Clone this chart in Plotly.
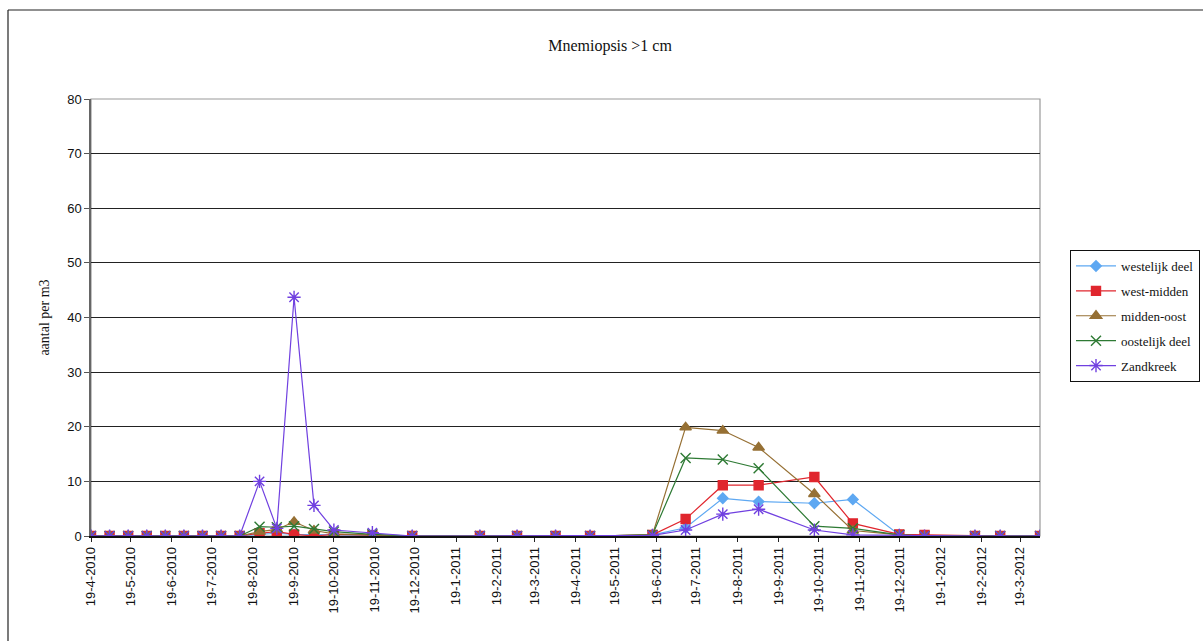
import plotly.graph_objects as go

# Sampling dates (dd-mm-yyyy visits)
dates = [
    "2010-04-19", "2010-05-03", "2010-05-17", "2010-05-31", "2010-06-14", "2010-06-28",
    "2010-07-12", "2010-07-26", "2010-08-09", "2010-08-24", "2010-09-06", "2010-09-19",
    "2010-10-04", "2010-10-19", "2010-11-17", "2010-12-17",
    "2011-02-06", "2011-03-06", "2011-04-04", "2011-04-30", "2011-06-16", "2011-07-11",
    "2011-08-08", "2011-09-04", "2011-10-16", "2011-11-14", "2011-12-19", "2012-01-07",
    "2012-02-14", "2012-03-04", "2012-04-03",
]

westelijk_deel = [0, 0, 0, 0, 0, 0, 0, 0, 0, 0.3, 0.5, 0.3, 0.2, 0.2, 0.1, 0,
                  0, 0, 0, 0, 0.2, 1.5, 6.9, 6.3, 6.0, 6.7, 0.2, 0, 0, 0, 0]
west_midden = [0, 0, 0, 0, 0, 0, 0, 0, 0, 0.5, 0.8, 0.3, 0, 0.3, 0.1, 0,
               0, 0, 0, 0, 0.2, 3.1, 9.3, 9.3, 10.8, 2.3, 0.3, 0.2, 0, 0, 0]
midden_oost = [0, 0, 0, 0, 0, 0, 0, 0, 0, 0.8, 1.2, 2.6, 1.0, 0.4, 0.2, 0,
               0, 0, 0, 0, 0.2, 19.9, 19.3, 16.2, 7.7, 1.0, 0.2, 0, 0, 0, 0]
oostelijk_deel = [0, 0, 0, 0, 0, 0, 0, 0, 0, 1.7, 1.6, 1.8, 1.3, 0.8, 0.3, 0,
                  0, 0, 0, 0, 0.2, 14.3, 14.0, 12.4, 1.8, 1.4, 0.2, 0, 0, 0, 0]
zandkreek = [0, 0, 0, 0, 0, 0, 0, 0, 0, 10.0, 1.4, 43.7, 5.6, 1.1, 0.6, 0,
             0, 0, 0, 0, 0.1, 1.1, 4.0, 4.9, 1.1, 0.2, 0.1, 0, 0, 0, 0]

tick_dates = [
    "2010-04-19", "2010-05-19", "2010-06-19", "2010-07-19", "2010-08-19", "2010-09-19",
    "2010-10-19", "2010-11-19", "2010-12-19", "2011-01-19", "2011-02-19", "2011-03-19",
    "2011-04-19", "2011-05-19", "2011-06-19", "2011-07-19", "2011-08-19", "2011-09-19",
    "2011-10-19", "2011-11-19", "2011-12-19", "2012-01-19", "2012-02-19", "2012-03-19",
]
tick_labels = [
    "19-4-2010", "19-5-2010", "19-6-2010", "19-7-2010", "19-8-2010", "19-9-2010",
    "19-10-2010", "19-11-2010", "19-12-2010", "19-1-2011", "19-2-2011", "19-3-2011",
    "19-4-2011", "19-5-2011", "19-6-2011", "19-7-2011", "19-8-2011", "19-9-2011",
    "19-10-2011", "19-11-2011", "19-12-2011", "19-1-2012", "19-2-2012", "19-3-2012",
]

series = [
    ("westelijk deel", westelijk_deel, "#5ea8f2", "diamond", 8),
    ("west-midden", west_midden, "#e0262e", "square", 9),
    ("midden-oost", midden_oost, "#967034", "triangle-up", 10),
    ("oostelijk deel", oostelijk_deel, "#2e7a34", "x-thin-open", 10),
    ("Zandkreek", zandkreek, "#7040e0", "asterisk-open", 11),
]

SERIF = "Liberation Serif, Times New Roman, serif"
SANS = "Liberation Sans, Arial, sans-serif"
W, H = 1203, 641

fig = go.Figure()
for name, vals, color, symbol, size in series:
    fig.add_trace(go.Scatter(
        x=dates, y=vals, name=name, mode="lines+markers", legendgroup=name,
        line=dict(color=color, width=1.2),
        marker=dict(symbol=symbol, size=size, color=color,
                    line=dict(color=color, width=1.4)),
    ))

fig.update_layout(
    width=W, height=H,
    paper_bgcolor="white", plot_bgcolor="white",
    margin=dict(l=91, r=163, t=99, b=105),
    title=dict(text="Mnemiopsis >1 cm", x=610 / W, xref="container", xanchor="center",
               y=1 - 45 / H, yref="container", yanchor="middle",
               font=dict(family=SERIF, size=16, color="#111")),
    showlegend=True,
    legend=dict(x=1070 / W, y=1 - 250 / H, xref="container", yref="container",
                xanchor="left", yanchor="top",
                font=dict(family=SERIF, size=13, color="#111"),
                bordercolor="#111", borderwidth=1, bgcolor="white",
                tracegroupgap=5, itemwidth=40),
    xaxis=dict(type="date", range=["2010-04-19", "2012-04-03"],
               tickmode="array", tickvals=tick_dates, ticktext=tick_labels,
               tickangle=-90, tickfont=dict(family=SANS, size=13, color="#111"),
               ticks="outside", ticklen=4, tickcolor="#222",
               showgrid=False, showline=True, linecolor="#111", linewidth=1.5,
               zeroline=False),
    yaxis=dict(range=[0, 80], dtick=10, tickfont=dict(family=SANS, size=13, color="#111"),
               ticks="outside", ticklen=5, tickcolor="#555",
               showgrid=True, gridcolor="#222", gridwidth=1,
               showline=True, linecolor="#666", linewidth=1.5, zeroline=False,
               title=dict(text="aantal per m3", standoff=14,
                          font=dict(family=SERIF, size=14, color="#111"))),
)

# Plot-area frame (gray on top and right)
fig.add_shape(type="rect", xref="paper", yref="paper", x0=0, y0=0, x1=1, y1=1,
              line=dict(color="#999", width=1.2), layer="below")

# Outer chart border: left and top edges
px_x = lambda p: (p - 91) / 949
px_y = lambda p: (536 - p) / 437
fig.add_shape(type="line", xref="paper", yref="paper",
              x0=px_x(8), y0=px_y(10), x1=px_x(8), y1=px_y(645),
              line=dict(color="#222", width=1.2))
fig.add_shape(type="line", xref="paper", yref="paper",
              x0=px_x(8), y0=px_y(10), x1=px_x(1210), y1=px_y(10),
              line=dict(color="#222", width=1.2))

fig.write_html("out.html")
